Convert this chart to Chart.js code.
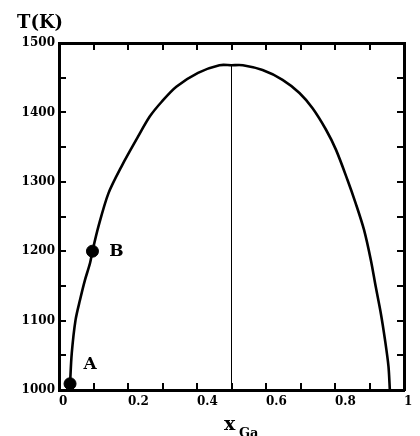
<!DOCTYPE html>
<html>
<head>
<meta charset="utf-8">
<script src="https://cdn.jsdelivr.net/npm/chart.js@4/dist/chart.umd.min.js"></script>
<style>
  html, body { margin: 0; padding: 0; background: #fff; }
  #wrap { width: 420px; height: 436px; }
</style>
</head>
<body>
<div id="wrap"><canvas id="chart"></canvas></div>
<script>
// miscibility gap curve
var xGa = [0.032, 0.037, 0.048, 0.061, 0.075, 0.090, 0.097, 0.114, 0.143, 0.181, 0.229, 0.263, 0.297, 0.340, 0.403, 0.465,
	0.500, 0.533, 0.590, 0.648, 0.697, 0.735, 0.774, 0.803, 0.836, 0.860, 0.884, 0.904, 0.918, 0.933, 0.945, 0.955, 0.959];
var tempK = [1009, 1053, 1101, 1130, 1158, 1183, 1200, 1235, 1283, 1322, 1365, 1394, 1415, 1437, 1457, 1468,
	1468, 1468, 1461, 1447, 1428, 1406, 1375, 1346, 1303, 1269, 1231, 1187, 1149, 1110, 1072, 1034, 1000];

// marked points A and B
var markNames = ['A', 'B'];
var markX = [0.032, 0.097];
var markT = [1009, 1200];

// vertical line at the critical composition
var critX = [0.5, 0.5];
var critT = [1000, 1468];

var xTickLabels = ['0', '0.2', '0.4', '0.6', '0.8', '1'];
var yTickLabels = ['1000', '1100', '1200', '1300', '1400', '1500'];

var FONT = 'DejaVu Serif';

function pairs(xs, ys) {
	return xs.map(function (x, i) { return { x: x, y: ys[i] }; });
}

var labelOffsets = { A: [20, -19], B: [24, 0] };

var framePlugin = {
	id: 'frame',
	afterDatasetsDraw: function (chart) {
		var ctx = chart.ctx;
		var a = chart.chartArea;
		var xs = chart.scales.x, ys = chart.scales.y;
		ctx.save();
		ctx.strokeStyle = '#000';
		ctx.lineWidth = 2;
		ctx.beginPath();
		// inward tick marks, bottom and top
		xs.ticks.forEach(function (t) {
			var px = Math.round(xs.getPixelForValue(t.value));
			if (px <= a.left + 2 || px >= a.right - 2) return;
			ctx.moveTo(px, a.bottom); ctx.lineTo(px, a.bottom - 7);
			ctx.moveTo(px, a.top); ctx.lineTo(px, a.top + 7);
		});
		// inward tick marks, left and right
		ys.ticks.forEach(function (t) {
			var py = Math.round(ys.getPixelForValue(t.value));
			if (py <= a.top + 2 || py >= a.bottom - 2) return;
			ctx.moveTo(a.left, py); ctx.lineTo(a.left + 7, py);
			ctx.moveTo(a.right, py); ctx.lineTo(a.right - 7, py);
		});
		ctx.stroke();

		// point labels
		ctx.fillStyle = '#000';
		ctx.font = 'bold 17px "' + FONT + '"';
		ctx.textAlign = 'center';
		ctx.textBaseline = 'middle';
		markNames.forEach(function (n, i) {
			var off = labelOffsets[n];
			ctx.fillText(n, xs.getPixelForValue(markX[i]) + off[0], ys.getPixelForValue(markT[i]) + off[1]);
		});

		// axis titles
		ctx.textAlign = 'left';
		ctx.textBaseline = 'alphabetic';
		ctx.font = 'bold 18px "' + FONT + '"';
		ctx.fillText('T(K)', 17, 28);
		ctx.font = 'bold 19px "' + FONT + '"';
		ctx.fillText('x', 224, 430);
		ctx.font = 'bold 13px "' + FONT + '"';
		ctx.fillText('Ga', 239, 437);
		ctx.restore();
	}
};

var tickFont = { family: FONT, weight: 'bold', size: 12 };

new Chart(document.getElementById('chart'), {
	type: 'scatter',
	data: {
		datasets: [
			{
				data: pairs(xGa, tempK),
				showLine: true,
				borderColor: '#000',
				borderWidth: 2.6,
				pointRadius: 0,
				tension: 0.3,
			},
			{
				data: pairs(critX, critT),
				showLine: true,
				borderColor: '#000',
				borderWidth: 1,
				pointRadius: 0,
			},
			{
				data: pairs(markX, markT),
				showLine: false,
				pointRadius: 6,
				backgroundColor: '#000',
				borderColor: '#000',
			},
		],
	},
	options: {
		responsive: true,
		maintainAspectRatio: false,
		animation: false,
		layout: { padding: { top: 43, right: 16, left: 0, bottom: 0 } },
		plugins: {
			legend: { display: false },
			tooltip: { enabled: false },
		},
		scales: {
			x: {
				type: 'linear',
				position: 'bottom',
				min: 0,
				max: 1,
				afterFit: function (s) { s.height = 46; },
				grid: { display: true, drawOnChartArea: false, drawTicks: false },
				border: { color: '#000', width: 3 },
				ticks: {
					stepSize: 0.1,
					autoSkip: false,
					maxRotation: 0,
					align: 'start',
					padding: 5,
					color: '#000',
					font: tickFont,
					callback: function (v) {
						var k = Math.round(v * 10);
						return k % 2 === 0 ? xTickLabels[k / 2] : '';
					},
				},
			},
			x2: {
				type: 'linear',
				position: 'top',
				min: 0,
				max: 1,
				afterFit: function (s) { s.height = 0; },
				grid: { display: true, drawOnChartArea: false, drawTicks: false },
				border: { color: '#000', width: 3 },
				ticks: { display: false },
			},
			y: {
				type: 'linear',
				position: 'left',
				min: 1000,
				max: 1500,
				afterFit: function (s) { s.width = 59; },
				grid: { display: true, drawOnChartArea: false, drawTicks: false },
				border: { color: '#000', width: 3 },
				ticks: {
					stepSize: 50,
					autoSkip: false,
					padding: 4,
					color: '#000',
					font: tickFont,
					callback: function (v) {
						return v % 100 === 0 ? yTickLabels[(v - 1000) / 100] : '';
					},
				},
			},
			y2: {
				type: 'linear',
				position: 'right',
				min: 1000,
				max: 1500,
				afterFit: function (s) { s.width = 0; },
				grid: { display: true, drawOnChartArea: false, drawTicks: false },
				border: { color: '#000', width: 3 },
				ticks: { display: false },
			},
		},
	},
	plugins: [framePlugin],
});
</script>
</body>
</html>
